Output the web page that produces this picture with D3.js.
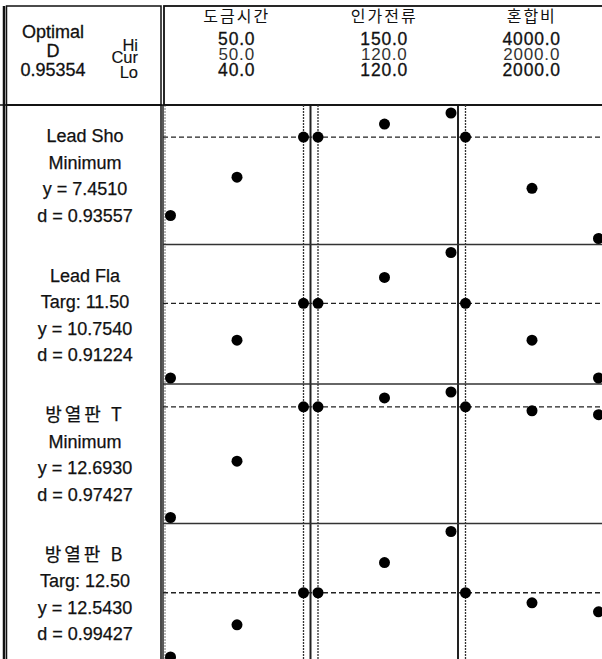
<!DOCTYPE html>
<html>
<head>
<meta charset="utf-8">
<script src="https://cdn.jsdelivr.net/npm/d3@7"></script>
<style>
body{margin:0;background:#fff;overflow:hidden}
svg{display:block}
text{font-family:"Liberation Sans",Arial,"Noto Sans CJK KR",sans-serif}
</style>
</head>
<body>
<div id="chart"></div>
<script>
// factors (columns)
var factors = ["도금시간", "인가전류", "혼합비"]
var factorHi = ["50.0", "150.0", "4000.0"]
var factorCur = ["50.0", "120.0", "2000.0"]
var factorLo = ["40.0", "120.0", "2000.0"]
var factorRange = [[40, 50], [120, 150], [2000, 4000]]
var factorCurVal = [50, 120, 2000]
var factorLevels = [[40, 45, 50], [120, 135, 150], [2000, 3000, 4000]]

// responses (rows)
var responses = ["Lead Sho", "Lead Fla", "방열판 T", "방열판 B"]
var goals = ["Minimum", "Targ: 11.50", "Minimum", "Targ: 12.50"]
var predY = [7.4510, 10.7540, 12.6930, 12.5430]
var predLabel = ["7.4510", "10.7540", "12.6930", "12.5430"]
var desir = ["0.93557", "0.91224", "0.97427", "0.99427"]
var compositeD = "0.95354"

// predicted response at each factor level [factor][level]
var leadSho = [[7.076, 7.259, 7.451], [7.451, 7.513, 7.566], [7.451, 7.206, 6.966]]
var leadFla = [[10.040, 10.402, 10.754], [10.754, 11.002, 11.240], [10.754, 10.402, 10.040]]
var heatT = [[10.929, 11.827, 12.693], [12.693, 12.835, 12.929], [12.693, 12.630, 12.567]]
var heatB = [[12.031, 12.287, 12.543], [12.543, 12.783, 13.031], [12.543, 12.463, 12.391]]
var respValues = [leadSho, leadFla, heatT, heatB]

var width = 602, height = 659
var svg = d3.select("#chart").append("svg")
    .attr("width", width).attr("height", height)

var headTop = 6, headBottom = 105
var leftX = 6.5, divX = 161

// columns and rows
var col = d3.scaleBand().domain(factors).range([163, 163 + 3 * 147.5])
var row = d3.scaleBand().domain(responses).range([headBottom, headBottom + 4 * 139.5])

// boxes
svg.append("rect").attr("x", leftX).attr("y", headTop)
    .attr("width", divX - leftX).attr("height", headBottom - headTop)
    .style("fill", "none").style("stroke", "#111").style("stroke-width", 1.5)
svg.append("rect").attr("x", divX + 3).attr("y", headTop)
    .attr("width", width - divX + 10).attr("height", headBottom - headTop)
    .style("fill", "none").style("stroke", "#111").style("stroke-width", 1.8)
svg.append("rect").attr("x", leftX).attr("y", headBottom)
    .attr("width", divX - leftX).attr("height", height)
    .style("fill", "none").style("stroke", "#111").style("stroke-width", 1.5)
// thick outer left edge
svg.append("line").attr("x1", 4).attr("x2", 4).attr("y1", headTop).attr("y2", height)
    .style("stroke", "#111").style("stroke-width", 2.5)

// header left text
var hl = svg.append("g").style("font-size", "18px").style("fill", "#111")
    .style("stroke", "#111").style("stroke-width", 0.3)
hl.append("text").attr("x", 53).attr("y", 38).attr("text-anchor", "middle").text("Optimal")
hl.append("text").attr("x", 53).attr("y", 57).attr("text-anchor", "middle").text("D")
hl.append("text").attr("x", 53).attr("y", 76).attr("text-anchor", "middle").text(compositeD)
hl.selectAll(".lab").data(["Hi", "Cur", "Lo"]).enter().append("text")
    .attr("x", 138).attr("y", function(d, i){ return [51, 63, 78][i] })
    .attr("text-anchor", "end").style("font-size", "16.5px").style("stroke-width", 0.15)
    .text(function(d){ return d })

// header factor text
factors.forEach(function(f, i){
    var cx = col(f) + col.bandwidth() / 2
    var g = svg.append("g").attr("text-anchor", "middle").style("fill", "#111")
        .style("letter-spacing", "0.8px")
    g.append("text").attr("x", cx).attr("y", 22).style("font-size", "16px")
        .style("letter-spacing", "2px")
        .style("font-family", "'Noto Sans CJK KR',sans-serif").text(f)
    g.append("text").attr("x", cx).attr("y", 45).style("font-size", "17.5px")
        .style("stroke", "#111").style("stroke-width", 0.3).text(factorHi[i])
    g.append("text").attr("x", cx).attr("y", 60).style("font-size", "17px").style("fill", "#333").text(factorCur[i])
    g.append("text").attr("x", cx).attr("y", 75.5).style("font-size", "17.5px")
        .style("stroke", "#111").style("stroke-width", 0.3).text(factorLo[i])
})

// left response text
responses.forEach(function(r, j){
    var top = row(r)
    var lines = [r, goals[j], "y = " + predLabel[j], "d = " + desir[j]]
    svg.append("g").selectAll("text").data(lines).enter().append("text")
        .attr("x", 85).attr("y", function(d, k){ return top + 37 + k * 26.5 })
        .attr("text-anchor", "middle")
        .style("font-size", "18px").style("fill", "#111")
        .style("stroke", "#111").style("stroke-width", 0.25)
        .style("letter-spacing", function(d, k){ return (k == 0 && j > 1) ? "3px" : null })
        .style("font-family", function(d, k){ return (k == 0 && j > 1) ? "'Noto Sans CJK KR',sans-serif" : null })
        .text(function(d){ return d })
})

var plotX0 = 163, plotX1 = width

// column boundaries
factors.forEach(function(f, i){
    svg.append("line").attr("x1", col(f)).attr("x2", col(f))
        .attr("y1", headBottom).attr("y2", height)
        .style("stroke", "#222").style("stroke-width", i == 0 ? 1.5 : 2)
})
svg.append("line").attr("x1", 165).attr("x2", 165).attr("y1", headBottom).attr("y2", height)
    .style("stroke", "#777").style("stroke-width", 1).style("stroke-dasharray", "2,1")

// row boundaries
responses.forEach(function(r, j){
    if (j == 0) return
    svg.append("line").attr("x1", plotX0).attr("x2", plotX1)
        .attr("y1", row(r)).attr("y2", row(r))
        .style("stroke", "#333").style("stroke-width", 1.6)
})
svg.append("line").attr("x1", 0).attr("x2", width).attr("y1", headBottom).attr("y2", headBottom)
    .style("stroke", "#111").style("stroke-width", 1.5)

// x scales per factor
var xs = factors.map(function(f, i){
    return d3.scaleLinear().domain(factorRange[i]).range([col(f) + 7.5, col(f) + 140.5])
})

// current factor setting lines
factors.forEach(function(f, i){
    var cx = xs[i](factorCurVal[i])
    svg.append("line").attr("x1", cx).attr("x2", cx).attr("y1", headBottom).attr("y2", height)
        .style("stroke", "#333").style("stroke-width", 1.3).style("stroke-dasharray", "2,1")
})

// per response rows
responses.forEach(function(r, j){
    var top = row(r), bh = row.bandwidth()
    var all = d3.merge(respValues[j])
    var y = d3.scaleLinear().domain(d3.extent(all)).range([top + bh - 6, top + 8])

    svg.append("line").attr("x1", plotX0).attr("x2", plotX1)
        .attr("y1", y(predY[j])).attr("y2", y(predY[j]))
        .style("stroke", "#222").style("stroke-width", 1.3).style("stroke-dasharray", "5,3")

    var pts = []
    factors.forEach(function(f, i){
        factorLevels[i].forEach(function(lv, k){
            pts.push({x: xs[i](lv), y: y(respValues[j][i][k])})
        })
    })
    svg.append("g").selectAll("circle").data(pts).enter().append("circle")
        .attr("cx", function(d){ return d.x })
        .attr("cy", function(d){ return d.y })
        .attr("r", 5.5)
        .style("fill", "#000")
})
</script>
</body>
</html>
